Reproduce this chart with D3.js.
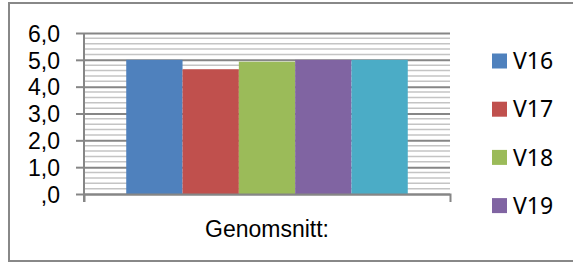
<!DOCTYPE html>
<html>
<head>
<meta charset="utf-8">
<script src="https://cdn.jsdelivr.net/npm/d3@7"></script>
<style>
  html, body { margin: 0; padding: 0; background: #fff; }
  svg { display: block; font-family: "Noto Sans", "Open Sans", sans-serif; }
</style>
</head>
<body>
<div id="chart"></div>
<script>
// Data
const categories = ['Genomsnitt:'];
const seriesNames = ['V16', 'V17', 'V18', 'V19', 'V20'];
const seriesValues = [5.0, 4.65, 4.93, 5.0, 5.0];
const seriesColors = ['#4F81BD', '#C0504D', '#9BBB59', '#8064A2', '#4BACC6'];
const yTicks = [0, 1, 2, 3, 4, 5, 6];
const yTickLabels = [',0', '1,0', '2,0', '3,0', '4,0', '5,0', '6,0'];
const legendShown = 4; // V20 does not fit in the frame

const W = 573, H = 264;
const plot = { left: 84, right: 450, top: 33, bottom: 194 };

const svg = d3.select('#chart').append('svg')
  .attr('width', W)
  .attr('height', H);

// Chart frame
svg.append('rect')
  .attr('x', 9).attr('y', 3)
  .attr('width', W + 20).attr('height', 258)
  .attr('fill', '#fff')
  .attr('stroke', '#888')
  .attr('stroke-width', 2);

const y = d3.scaleLinear().domain([0, 6]).range([plot.bottom, plot.top]);
const x0 = d3.scaleBand().domain(categories).range([plot.left, plot.right]);
// Excel gap width 150%
const gap = x0.bandwidth() * 1.5 / (seriesNames.length + 1.5);
const x1 = d3.scaleBand().domain(seriesNames).range([gap / 2, x0.bandwidth() - gap / 2]);

// Minor gridlines every 0.2
const minor = d3.range(0, 6.0001, 0.2).filter(v => Math.abs(v - Math.round(v)) > 1e-6);
svg.append('g')
  .selectAll('line')
  .data(minor)
  .join('line')
  .attr('x1', plot.left).attr('x2', plot.right)
  .attr('y1', d => y(d)).attr('y2', d => y(d))
  .attr('stroke', '#c4c4c4')
  .attr('stroke-width', 1.5);

// Major gridlines + y axis
const yAxis = svg.append('g')
  .attr('transform', `translate(${plot.left},0)`)
  .call(d3.axisLeft(y).tickValues(yTicks).tickSize(8).tickPadding(16)
    .tickFormat((d, i) => yTickLabels[i]));
yAxis.select('.domain').remove();
yAxis.selectAll('.tick line')
  .attr('stroke', '#868686')
  .attr('stroke-width', 2)
  .attr('x2', -8);
yAxis.selectAll('.tick')
  .append('line')
  .attr('x1', 0).attr('x2', plot.right - plot.left)
  .attr('stroke', '#868686')
  .attr('stroke-width', 2);
yAxis.selectAll('text')
  .attr('fill', '#000')
  .style('font-size', '23px')
  .attr('dy', '0.36em');

// Bars
svg.append('g')
  .selectAll('g')
  .data(categories)
  .join('g')
  .attr('transform', d => `translate(${x0(d)},0)`)
  .selectAll('rect')
  .data(seriesNames.map((s, i) => ({ s, v: seriesValues[i], c: seriesColors[i] })))
  .join('rect')
  .attr('x', d => x1(d.s))
  .attr('width', x1.bandwidth())
  .attr('y', d => y(d.v))
  .attr('height', d => y(0) - y(d.v))
  .attr('fill', d => d.c);

// Vertical axis line
svg.append('line')
  .attr('x1', plot.left).attr('x2', plot.left)
  .attr('y1', plot.top).attr('y2', plot.bottom + 8)
  .attr('stroke', '#868686').attr('stroke-width', 2);

// Category axis
const xAxis = svg.append('g')
  .attr('transform', `translate(0,${plot.bottom})`)
  .call(d3.axisBottom(x0).tickSize(0).tickPadding(27).tickSizeOuter(8));
xAxis.select('.domain')
  .attr('stroke', '#868686')
  .attr('stroke-width', 2);
xAxis.selectAll('text')
  .attr('fill', '#000')
  .style('font-size', '23px');

// Legend
const legend = svg.append('g')
  .selectAll('g')
  .data(seriesNames.slice(0, legendShown))
  .join('g')
  .attr('transform', (d, i) => `translate(492,${61 + i * 48.2})`);
legend.append('rect')
  .attr('x', 0).attr('y', -7.5)
  .attr('width', 15).attr('height', 15)
  .attr('fill', (d, i) => seriesColors[i]);
legend.append('text')
  .attr('x', 21)
  .attr('dy', '0.36em')
  .style('font-size', '23px')
  .attr('fill', '#000')
  .text(d => d);
</script>
</body>
</html>
